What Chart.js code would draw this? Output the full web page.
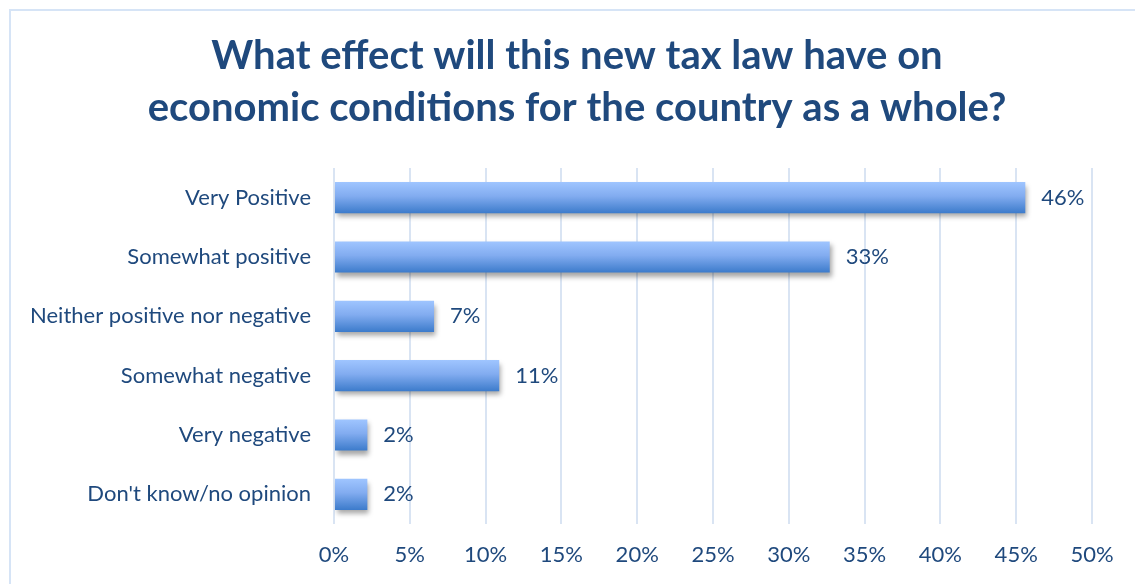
<!DOCTYPE html>
<html>
<head>
<meta charset="utf-8">
<script src="https://cdn.jsdelivr.net/npm/chart.js@4.4.1/dist/chart.umd.min.js"></script>
<style>
  html, body { margin: 0; padding: 0; background: #ffffff; overflow: hidden; }
  #wrap { position: relative; width: 1135px; height: 584px; }
  #frame {
    position: absolute; left: 9px; top: 9px; width: 1200px; height: 700px;
    border: 2px solid #d6e4f6; box-sizing: border-box; pointer-events: none;
  }
  canvas { position: absolute; left: 0; top: 0; }
</style>
</head>
<body>
<div id="wrap">
  <canvas id="chart" width="1135" height="584"></canvas>
  <div id="frame"></div>
</div>
<script>
// Survey answers, top to bottom
const categories = [
  'Very Positive',
  'Somewhat positive',
  'Neither positive nor negative',
  'Somewhat negative',
  'Very negative',
  "Don't know/no opinion"
];
// Share of respondents (%)
const shares = [45.6, 32.7, 6.6, 10.9, 2.2, 2.2];
// Horizontal axis ticks (%)
const xTicks = [0, 5, 10, 15, 20, 25, 30, 35, 40, 45, 50];

const titleLines = [
  'What effect will this new tax law have on',
  'economic conditions for the country as a whole?'
];

const TEXT = '#1f497d';
const FONT = 'Lato, "Open Sans", sans-serif';
const LABEL_SIZE = 22;
const BAR_PCT = 0.525;
const PAD_LEFT = 19;
const RIGHT_GUTTER = 43;

function barGradient(c) {
  const chart = c.chart;
  const yScale = chart.scales && chart.scales.y;
  if (!yScale || c.type !== 'data') return '#6a9be6';
  const yc = yScale.getPixelForValue(c.dataIndex);
  const half = (yScale.height / categories.length) * BAR_PCT / 2;
  if (!isFinite(yc) || !isFinite(half)) return '#6a9be6';
  const g = chart.ctx.createLinearGradient(0, yc - half, 0, yc + half);
  g.addColorStop(0, '#9fc5ff');
  g.addColorStop(0.45, '#82acf0');
  g.addColorStop(1, '#3c7bcb');
  return g;
}

// Soft drop shadow under the bars and percentage labels beside them
const barDecor = {
  id: 'barDecor',
  beforeDatasetsDraw(chart) {
    const ctx = chart.ctx;
    ctx.save();
    ctx.shadowColor = 'rgba(0,0,0,0.35)';
    ctx.shadowBlur = 5;
    ctx.shadowOffsetX = 2;
    ctx.shadowOffsetY = 4;
  },
  afterDatasetsDraw(chart) {
    chart.ctx.restore();
  },
  afterDraw(chart) {
    const ctx = chart.ctx;
    const meta = chart.getDatasetMeta(0);
    ctx.save();
    ctx.font = LABEL_SIZE + 'px ' + FONT;
    ctx.fillStyle = TEXT;
    ctx.textAlign = 'left';
    ctx.textBaseline = 'middle';
    meta.data.forEach((el, i) => {
      ctx.fillText(Math.round(shares[i]) + '%', el.x + 16, el.y);
    });
    ctx.restore();
  }
};

new Chart(document.getElementById('chart'), {
  type: 'bar',
  data: {
    labels: categories,
    datasets: [{
      data: shares,
      xAxisID: 'x',
      yAxisID: 'y',
      backgroundColor: barGradient,
      borderWidth: 0,
      categoryPercentage: 1,
      barPercentage: BAR_PCT
    }]
  },
  options: {
    indexAxis: 'y',
    responsive: false,
    devicePixelRatio: 1,
    animation: false,
    layout: { padding: { left: PAD_LEFT, right: 0, top: 0, bottom: 0 } },
    plugins: {
      legend: { display: false },
      tooltip: { enabled: false },
      title: {
        display: true,
        text: titleLines,
        color: TEXT,
        font: { family: FONT, size: 40, weight: 'bold', lineHeight: 1.3 },
        padding: { top: 30, bottom: 34 }
      }
    },
    scales: {
      x: {
        min: 0,
        max: 50,
        afterBuildTicks(scale) { scale.ticks = xTicks.map(v => ({ value: v })); },
        afterFit(scale) { scale.height = 60; },
        grid: { color: '#d9e4f3', lineWidth: 2, drawTicks: false },
        border: { display: false },
        ticks: {
          color: TEXT,
          font: { family: FONT, size: LABEL_SIZE },
          padding: 18,
          maxRotation: 0,
          callback: v => v + '%'
        }
      },
      y: {
        position: 'left',
        afterFit(scale) { scale.width = 334 - PAD_LEFT; },
        grid: { display: false, drawTicks: false },
        border: { display: false },
        ticks: {
          color: TEXT,
          font: { family: FONT, size: LABEL_SIZE },
          padding: 23
        }
      },
      // empty right-hand gutter so the last tick label has room
      yGutter: {
        type: 'category',
        axis: 'y',
        position: 'right',
        afterFit(scale) { scale.width = RIGHT_GUTTER; },
        grid: { display: false, drawTicks: false },
        border: { display: false },
        ticks: { display: false }
      }
    }
  },
  plugins: [barDecor]
});
</script>
</body>
</html>
